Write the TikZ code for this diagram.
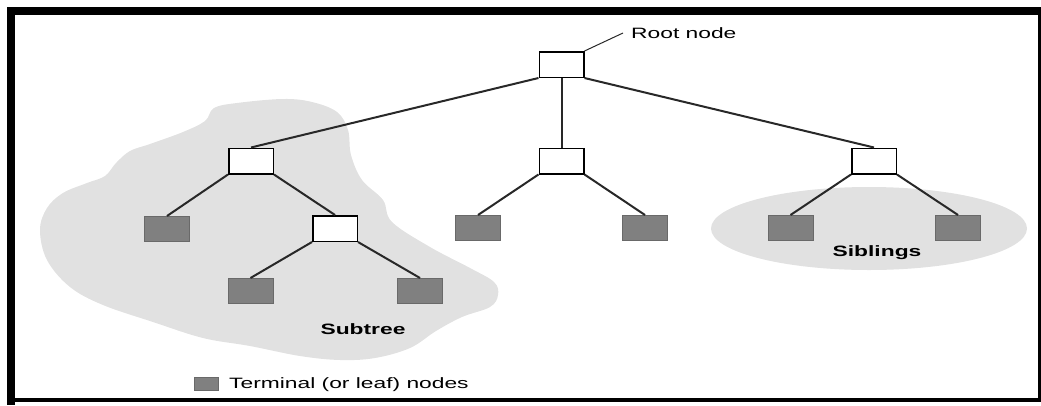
\documentclass[tikz,border=0pt]{standalone}
\usepackage{fontspec}
\setmainfont{Liberation Sans}
\usepackage{graphicx}
\definecolor{blobgray}{RGB}{225,225,225}
\definecolor{leafgray}{RGB}{128,128,128}
\definecolor{leafedge}{RGB}{105,105,105}
\definecolor{edgegray}{RGB}{40,40,40}
\tikzset{
  inner/.style={draw=black, line width=1.5pt, fill=white, minimum width=44.5pt, minimum height=25.5pt, inner sep=0pt},
  leaf/.style={draw=leafedge, line width=1pt, fill=leafgray, minimum width=45pt, minimum height=25pt, inner sep=0pt},
  link/.style={draw=edgegray, line width=2pt},
  lbl/.style={inner sep=0pt, font=\fontsize{15}{18}\selectfont},
}
\newcommand{\wide}[1]{\scalebox{1.52}[1]{#1}}
\begin{document}
\begin{tikzpicture}[x=1pt,y=-1pt]
\useasboundingbox (0,0) rectangle (1041,405);
% frame
\fill[black] (7,7) rectangle (1041,15);
\fill[black] (7,7) rectangle (15,405);
\fill[black] (7,398) rectangle (1041,402);
\fill[black] (1038,7) rectangle (1041,402);
% subtree blob
\fill[blobgray] plot[smooth cycle, tension=0.6] coordinates {
(237,103) (283,99) (312,102) (337,112) (348,130) (351,155) (362,180) (383,200)
(392,222) (430,247) (470,268) (494,282) (498,295) (490,307) (462,317) (436,331)
(410,348) (375,358) (340,360) (300,356) (250,346) (203,338) (153,322) (103,305)
(70,287) (47,260) (40,230) (47,208) (63,193) (87,183) (105,176) (116,163)
(130,151) (150,144) (183,132) (205,121) (214,108)};
% siblings ellipse
\fill[blobgray] (869,228.5) ellipse [x radius=158, y radius=41.5];
% nodes
\node[inner] (root) at (561.5,64.5) {};
\node[inner] (a) at (251,161) {};
\node[inner] (b) at (561.5,161) {};
\node[inner] (c) at (874,161) {};
\node[leaf] (a1) at (167,229) {};
\node[inner] (a2) at (335,228.5) {};
\node[leaf] (a21) at (250.5,291) {};
\node[leaf] (a22) at (420,291) {};
\node[leaf] (b1) at (478,228) {};
\node[leaf] (b2) at (645,228) {};
\node[leaf] (c1) at (790.5,228) {};
\node[leaf] (c2) at (958,228) {};
% connectors
\draw[link] (root.south west) -- (a.north);
\draw[link] (root.south) -- (b.north);
\draw[link] (root.south east) -- (c.north);
\draw[link] (a.south west) -- (a1.north);
\draw[link] (a.south east) -- (a2.north);
\draw[link] (a2.south west) -- (a21.north);
\draw[link] (a2.south east) -- (a22.north);
\draw[link] (b.south west) -- (b1.north);
\draw[link] (b.south east) -- (b2.north);
\draw[link] (c.south west) -- (c1.north);
\draw[link] (c.south east) -- (c2.north);
% labels
\coordinate (rl) at (623,33);
\draw[edgegray, line width=1pt] (root.north east) -- (rl);
\node[lbl, anchor=west] (rootlbl) at (631,33) {\wide{Root node}};
\node[lbl] (subtree) at (363,329) {\wide{\bfseries Subtree}};
\node[lbl] (siblings) at (877,253) {\wide{\bfseries Siblings}};
\node[leaf, minimum width=24pt, minimum height=13pt] (legend) at (206.5,384) {};
\node[lbl, anchor=west] (legendlbl) at (229,385) {\wide{Terminal (or leaf) nodes}};
\end{tikzpicture}
\end{document}
